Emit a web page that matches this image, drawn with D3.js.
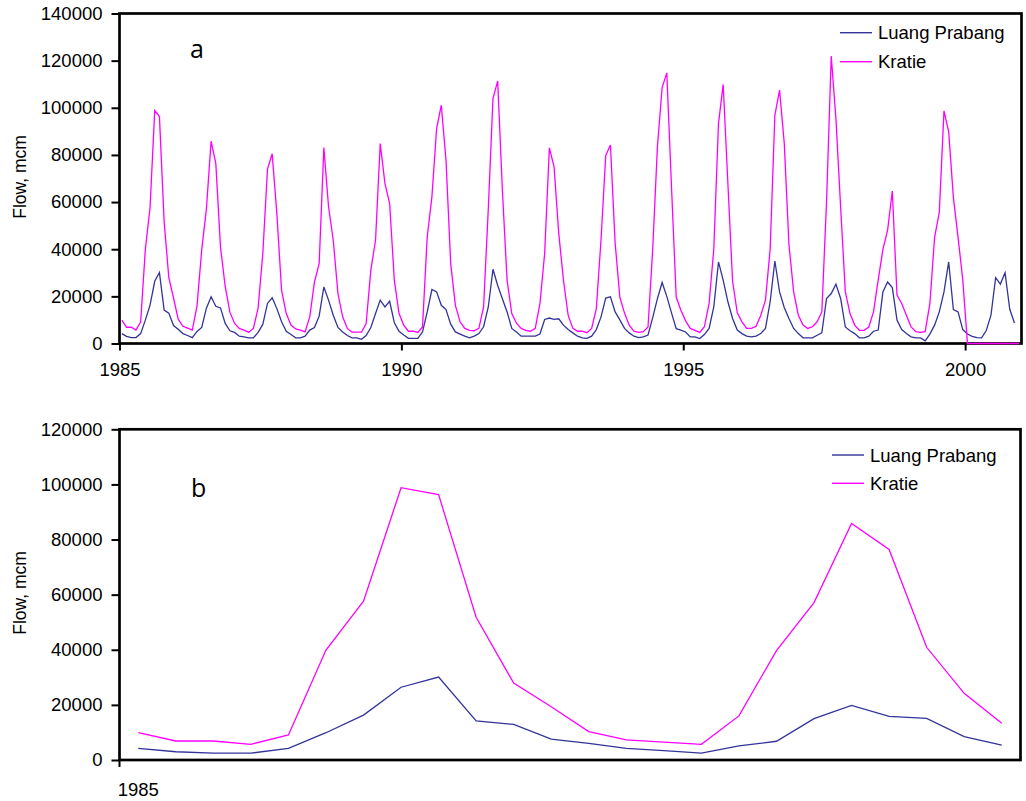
<!DOCTYPE html>
<html>
<head>
<meta charset="utf-8">
<script src="https://cdn.jsdelivr.net/npm/d3@7"></script>
<style>
  body { margin: 0; background: #fff; }
  svg { display: block; }
</style>
</head>
<body>
<div id="vis"></div>
<script>
// monthly flow (mcm), Jan 1985 onwards, one year per line
const kratie = [
  9900, 6900, 6900, 5700, 9100, 39900, 57600, 98800, 96300, 51800, 27900, 19300,
  10300, 7300, 6500, 5700, 16000, 39700, 57100, 85800, 76400, 40900, 24200, 13300,
  8500, 6400, 5700, 4800, 6400, 15000, 38000, 74000, 80500, 55000, 22500, 12700,
  7800, 6200, 5700, 4900, 11300, 26100, 33900, 83100, 58000, 43800, 21200, 11300,
  6400, 4800, 4800, 4800, 8500, 31100, 43800, 84800, 67900, 59400, 26900, 12700,
  7800, 5200, 5200, 4700, 7000, 45200, 62200, 91200, 101100, 77800, 33900, 16200,
  9200, 6400, 5600, 5400, 6400, 15500, 57000, 103900, 111400, 65000, 26900, 12700,
  8600, 6400, 5600, 5200, 6400, 17000, 38200, 83000, 74900, 46700, 26900, 12000,
  6400, 5200, 5200, 4600, 6400, 14800, 44100, 79800, 84200, 42700, 19700, 12900,
  7800, 5200, 4700, 5000, 7000, 40000, 83400, 108600, 114800, 66400, 19700, 14100,
  9600, 6400, 5600, 4700, 7100, 17000, 40000, 93300, 109900, 68000, 26400, 13000,
  9200, 6400, 6400, 7300, 11900, 18400, 40000, 96800, 107500, 85000, 42000, 21900,
  12000, 7800, 6400, 7100, 9200, 13400, 60000, 121900, 95400, 57900, 21900, 12700,
  7800, 5600, 5600, 7000, 13400, 27000, 39900, 48100, 64700, 20500, 17000, 12000,
  7000, 5000, 4700, 5000, 17000, 45000, 55600, 98700, 89800, 62000, 45000, 27000,
  0, 0, 0, 0, 0, 0, 0, 0, 0, 0, 0, 0
];

const luangPrabang = [
  4200, 3000, 2500, 2500, 4200, 9900, 16300, 26400, 30100, 14200, 12900, 7600,
  6000, 4200, 3400, 2500, 5100, 6800, 15000, 19800, 15800, 15100, 8500, 5400,
  4700, 3100, 2800, 2400, 2400, 4700, 8100, 17000, 19400, 14800, 9200, 5200,
  3800, 2400, 2400, 3100, 5700, 6800, 11600, 24000, 18400, 12000, 6800, 4900,
  3400, 2400, 2400, 1800, 3400, 6800, 12700, 18400, 15500, 17900, 8800, 5200,
  3600, 2200, 2200, 2200, 4900, 13400, 22900, 21900, 16200, 14400, 8200, 4900,
  4000, 3100, 2400, 3100, 4200, 7100, 15500, 31500, 24600, 19000, 13400, 6400,
  4900, 3100, 3100, 3100, 3100, 4000, 10200, 10800, 10200, 10500, 7800, 5900,
  4500, 3100, 2400, 2200, 3100, 5900, 11300, 19300, 19800, 13400, 10000, 6400,
  4500, 3100, 2500, 2800, 3600, 11000, 19000, 25900, 20000, 13000, 6300, 5700,
  4900, 2800, 2800, 2100, 3800, 6400, 15500, 34600, 26900, 17700, 10600, 5700,
  4200, 3100, 2800, 3100, 4200, 6400, 17700, 35000, 21900, 15300, 10600, 6400,
  4200, 2400, 2400, 2400, 3500, 4500, 19100, 21200, 25200, 19100, 7000, 5400,
  4200, 2400, 2400, 3100, 5200, 5700, 21900, 26100, 23700, 9900, 5900, 4200,
  2800, 2400, 2400, 1100, 4000, 7800, 13400, 21900, 34600, 14400, 13400, 5900,
  4000, 3000, 2500, 2400, 5500, 12000, 27900, 25200, 30000, 14500, 8700
];

const startYear = 1985;
const yearTicksA = [1985, 1990, 1995, 2000];
const yTicksA = [0, 20000, 40000, 60000, 80000, 100000, 120000, 140000];
const yTicksB = [0, 20000, 40000, 60000, 80000, 100000, 120000];
const monthsB = 24;   // panel b = first two years
const labelsB = ["1985"];

const seriesNames = ["Luang Prabang", "Kratie"];
const colors = { "Luang Prabang": "#333399", "Kratie": "#ff00ff" };

const font = "'Liberation Sans', Arial, sans-serif";

const svg = d3.select("#vis").append("svg")
  .attr("width", 1026)
  .attr("height", 801);

function frame(g, x0, y0, x1, y1) {
  g.append("rect")
    .attr("x", x0).attr("y", y0)
    .attr("width", x1 - x0).attr("height", y1 - y0)
    .attr("fill", "none")
    .attr("stroke", "#000")
    .attr("stroke-width", 2.7);
}

function styleAxis(g) {
  g.select(".domain").remove();
  g.selectAll(".tick line").attr("stroke", "#000").attr("stroke-width", 2);
  g.selectAll(".tick text")
    .attr("fill", "#000")
    .style("font-family", font)
    .style("font-size", "18.5px");
}

function yTitle(cy) {
  svg.append("text")
    .attr("transform", `translate(26,${cy}) rotate(-90)`)
    .attr("text-anchor", "middle")
    .style("font-family", font)
    .style("font-size", "17.5px")
    .text("Flow, mcm");
}

function legend(x, y, gap) {
  seriesNames.forEach((name, i) => {
    const ly = y + i * gap;
    svg.append("line")
      .attr("x1", x).attr("x2", x + 32)
      .attr("y1", ly).attr("y2", ly)
      .attr("stroke", colors[name]).attr("stroke-width", 1.4);
    svg.append("text")
      .attr("x", x + 38).attr("y", ly + 6.6)
      .style("font-family", font)
      .style("font-size", "18.5px")
      .text(name);
  });
}

// ---------- panel a ----------
const A = { left: 119.5, right: 1021.5, top: 13.5, bottom: 343.5 };

const xA = d3.scaleLinear()
  .domain([1985, 2001])
  .range([A.left, A.right]);

const yA = d3.scaleLinear()
  .domain([0, 140000])
  .range([A.bottom, A.top]);

const monthX = i => startYear + (i + 0.5) / 12;

const lineA = d3.line()
  .x((d, i) => xA(monthX(i)))
  .y(d => yA(d));

const gA = svg.append("g");

// frame first so the zero-flow stretch of Kratie sits on top of the axis
frame(gA, A.left, A.top, A.right, A.bottom);

gA.append("path")
  .datum(luangPrabang)
  .attr("d", lineA)
  .attr("fill", "none")
  .attr("stroke", colors["Luang Prabang"])
  .attr("stroke-width", 1.3);

gA.append("path")
  .datum(kratie)
  .attr("d", lineA)
  .attr("fill", "none")
  .attr("stroke", colors["Kratie"])
  .attr("stroke-width", 1.3);

svg.append("g")
  .attr("transform", `translate(${A.left},0)`)
  .call(d3.axisLeft(yA).tickValues(yTicksA).tickSize(8).tickPadding(9).tickFormat(d3.format("d")))
  .call(styleAxis);

svg.append("g")
  .attr("transform", `translate(0,${A.bottom})`)
  .call(d3.axisBottom(xA).tickValues(yearTicksA).tickSize(7).tickPadding(12).tickFormat(d3.format("d")))
  .call(styleAxis);

yTitle(177);

svg.append("text")
  .attr("x", 190).attr("y", 58)
  .style("font-family", "'Open Sans', sans-serif")
  .style("font-size", "25px")
  .text("a");

legend(840, 32.7, 29);

// ---------- panel b ----------
const B = { left: 119.5, right: 1020.5, top: 429.3, bottom: 760 };

const xB = d3.scalePoint()
  .domain(d3.range(monthsB))
  .range([B.left, B.right])
  .padding(0.5);

const yB = d3.scaleLinear()
  .domain([0, 120000])
  .range([B.bottom, B.top]);

const lineB = d3.line()
  .x((d, i) => xB(i))
  .y(d => yB(d));

const gB = svg.append("g");

frame(gB, B.left, B.top, B.right, B.bottom);

gB.append("path")
  .datum(luangPrabang.slice(0, monthsB))
  .attr("d", lineB)
  .attr("fill", "none")
  .attr("stroke", colors["Luang Prabang"])
  .attr("stroke-width", 1.3);

gB.append("path")
  .datum(kratie.slice(0, monthsB))
  .attr("d", lineB)
  .attr("fill", "none")
  .attr("stroke", colors["Kratie"])
  .attr("stroke-width", 1.3);

svg.append("g")
  .attr("transform", `translate(${B.left},0)`)
  .call(d3.axisLeft(yB).tickValues(yTicksB).tickSize(8).tickPadding(9).tickFormat(d3.format("d")))
  .call(styleAxis);

// category axis: tick mark at the left edge, label centred on the first month
svg.append("line")
  .attr("x1", B.left).attr("x2", B.left)
  .attr("y1", B.bottom).attr("y2", B.bottom + 7)
  .attr("stroke", "#000").attr("stroke-width", 2);

svg.append("g")
  .selectAll("text")
  .data(labelsB)
  .join("text")
  .attr("x", (d, i) => xB(i))
  .attr("y", 796)
  .attr("text-anchor", "middle")
  .style("font-family", font)
  .style("font-size", "18.5px")
  .text(d => d);

yTitle(593);

svg.append("text")
  .attr("x", 191).attr("y", 497)
  .style("font-family", "'Open Sans', sans-serif")
  .style("font-size", "25px")
  .text("b");

legend(832, 455, 28.3);
</script>
</body>
</html>
